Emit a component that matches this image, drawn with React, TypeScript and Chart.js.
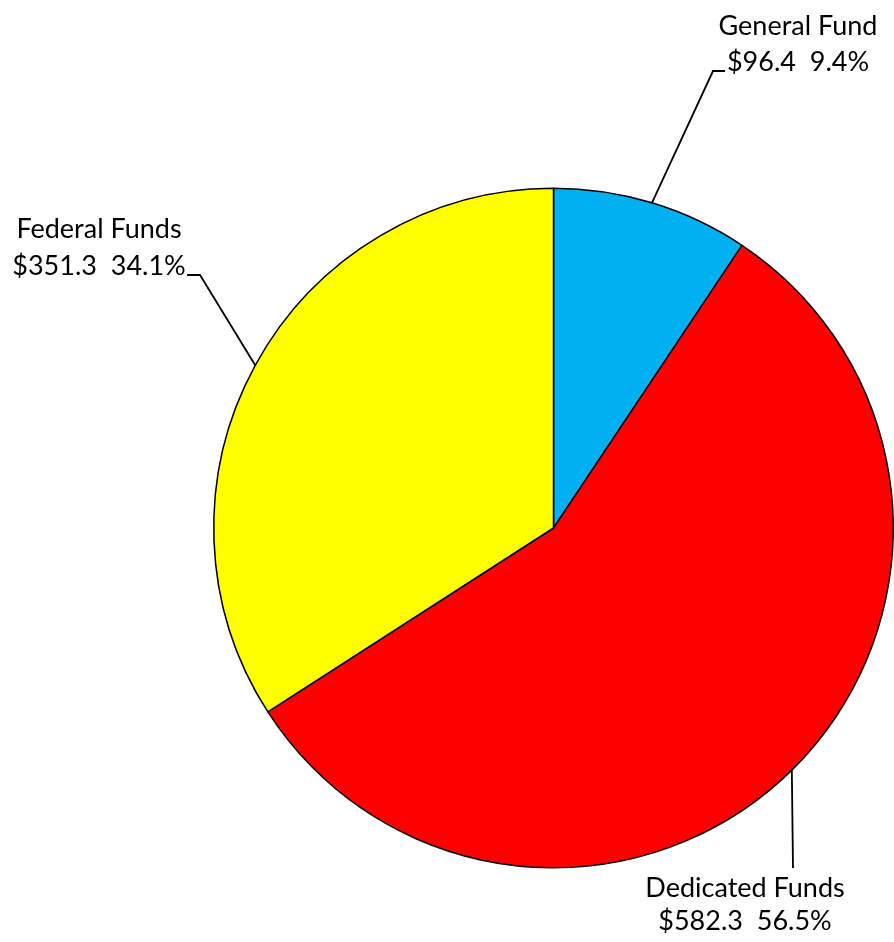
import React, { useEffect, useRef } from "react";
import { Chart, registerables } from "chart.js";

Chart.register(...registerables);

const categories = ["General Fund", "Dedicated Funds", "Federal Funds"];
const amounts = [96.4, 582.3, 351.3];
const amountLabels = ["$96.4", "$582.3", "$351.3"];
const percentLabels = ["9.4%", "56.5%", "34.1%"];
const colors = ["#00B0F0", "#FF0000", "#FFFF00"];

// label layout (pixel positions of elbows and text)
const labelLayout = [
  { elbow: [713, 71], end: [725, 71], cx: 798, baselines: [35, 71] },
  { elbow: [793, 868], end: [793, 868], cx: 745, baselines: [897, 930] },
  { elbow: [200, 275], end: [187, 275], cx: 99, baselines: [238, 275] },
];

const FONT = "27px Lato, 'Noto Sans', sans-serif";

const leaderPlugin = {
  id: "leaderLabels",
  afterDatasetsDraw(chart: any) {
    const ctx = chart.ctx;
    const meta = chart.getDatasetMeta(0);
    ctx.save();
    meta.data.forEach((arc: any, i: number) => {
      const p = arc.getProps(["x", "y", "startAngle", "endAngle", "outerRadius"], true);
      const mid = (p.startAngle + p.endAngle) / 2;
      const ax = p.x + Math.cos(mid) * p.outerRadius;
      const ay = p.y + Math.sin(mid) * p.outerRadius;
      const L = labelLayout[i];
      ctx.strokeStyle = "#000";
      ctx.lineWidth = 1.8;
      ctx.beginPath();
      ctx.moveTo(ax, ay);
      ctx.lineTo(L.elbow[0], L.elbow[1]);
      ctx.lineTo(L.end[0], L.end[1]);
      ctx.stroke();
      ctx.fillStyle = "#000";
      ctx.font = FONT;
      ctx.textAlign = "center";
      ctx.textBaseline = "alphabetic";
      ctx.fillText(categories[i], L.cx, L.baselines[0]);
      ctx.fillText(amountLabels[i] + "  " + percentLabels[i], L.cx, L.baselines[1]);
    });
    ctx.restore();
  },
};

export default function App() {
  const ref = useRef<HTMLCanvasElement>(null);
  useEffect(() => {
    if (!ref.current) return;
    const chart = new Chart(ref.current, {
      type: "pie",
      data: {
        labels: categories,
        datasets: [
          {
            data: amounts,
            backgroundColor: colors,
            borderColor: "#000",
            borderWidth: 1.5,
          },
        ],
      },
      options: {
        animation: false,
        responsive: false,
        maintainAspectRatio: false,
        layout: { padding: { left: 213, right: 0, top: 187.5, bottom: 73.5 } },
        plugins: { legend: { display: false }, tooltip: { enabled: false } },
      },
      plugins: [leaderPlugin],
    });
    return () => chart.destroy();
  }, []);
  return (
    <div style={{ position: "fixed", left: 0, top: 0, width: 894, height: 942, background: "#fff" }}>
      <canvas ref={ref} width={894} height={942} style={{ width: 894, height: 942 }} />
    </div>
  );
}
